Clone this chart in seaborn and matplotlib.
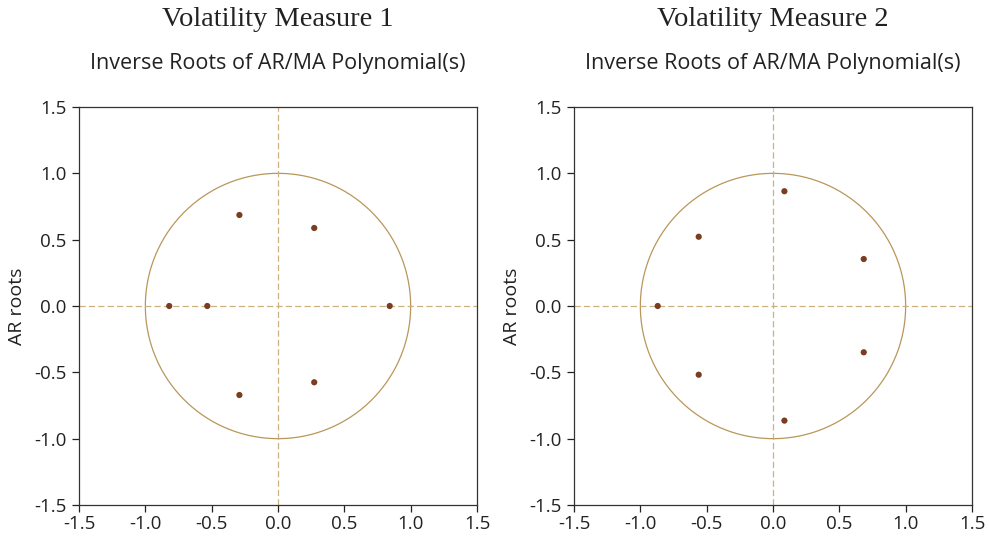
import numpy as np
import pandas as pd
import matplotlib
matplotlib.use("Agg")
import matplotlib.pyplot as plt
import seaborn as sns

titles = ["Volatility Measure 1", "Volatility Measure 2"]
subtitle = "Inverse Roots of AR/MA Polynomial(s)"
ylabel = "AR roots"

m1_real = [-0.82, -0.533, 0.842, -0.291, -0.291, 0.273, 0.273]
m1_imag = [0.0, 0.0, 0.0, 0.686, -0.671, 0.588, -0.575]
m2_real = [-0.869, -0.56, -0.56, 0.086, 0.086, 0.684, 0.684]
m2_imag = [0.0, 0.522, -0.518, 0.865, -0.864, 0.354, -0.349]

ticks = [-1.5, -1.0, -0.5, 0.0, 0.5, 1.0, 1.5]
tick_labels = ["-1.5", "-1.0", "-0.5", "0.0", "0.5", "1.0", "1.5"]

sns.set_style("white")
plt.rcParams['font.family'] = ['Open Sans', 'DejaVu Sans']

fig = plt.figure(figsize=(9.89, 5.41), dpi=100)
W, H = 989, 541
axes_px = [(79, 107), (574, 107)]
size = 398

point_color = "#7a3d22"
circle_color = "#b8975a"
dash_color = "#cdb27f"

datasets = [(m1_real, m1_imag), (m2_real, m2_imag)]
for i, (re, im) in enumerate(datasets):
    x0, y0 = axes_px[i]
    ax = fig.add_axes([x0 / W, 1 - (y0 + size) / H, size / W, size / H])
    df = pd.DataFrame({"re": re, "im": im})
    theta = np.linspace(0, 2 * np.pi, 400)
    ax.plot(np.cos(theta), np.sin(theta), color=circle_color, lw=0.9, zorder=1)
    ax.axhline(0, color=dash_color, lw=0.9, ls=(0, (5, 2.5)), zorder=1)
    ax.axvline(0, color=dash_color, lw=0.9, ls=(0, (5, 2.5)), zorder=1)
    sns.scatterplot(data=df, x="re", y="im", ax=ax, color=point_color, s=20,
                    edgecolor="none", zorder=3)
    ax.set_xlim(-1.5, 1.5)
    ax.set_ylim(-1.5, 1.5)
    ax.set_xticks(ticks)
    ax.set_xticklabels(tick_labels)
    ax.set_yticks(ticks)
    ax.set_yticklabels(tick_labels)
    ax.tick_params(axis="both", which="both", direction="out", length=5, width=0.9,
                   labelsize=13.5, colors="#222222", bottom=True, left=True, pad=4)
    ax.tick_params(axis="x", pad=2)
    ax.set_xlabel("")
    ax.set_ylabel(ylabel, fontsize=14, color="#222222", labelpad=6)
    for sp in ax.spines.values():
        sp.set_color("#333333")
        sp.set_linewidth(0.9)
        sp.set_visible(True)
    cx = (x0 + size / 2) / W
    fig.text(cx, 1 - 20 / H, titles[i], ha="center", va="center",
             family=["Liberation Serif"], fontsize=20.5, color="#222222")
    fig.text(cx, 1 - 63 / H, subtitle, ha="center", va="center",
             fontsize=15.5, color="#222222")

fig.savefig("out.png", dpi=100)
